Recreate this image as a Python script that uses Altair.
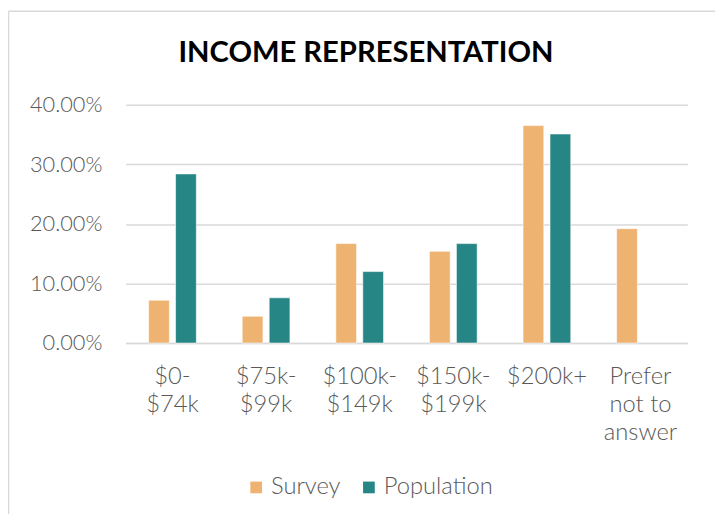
import altair as alt
import pandas as pd

categories = ["$0-|$74k", "$75k-|$99k", "$100k-|$149k", "$150k-|$199k", "$200k+", "Prefer|not to|answer"]
survey = [0.072, 0.045, 0.167, 0.154, 0.365, 0.192]
population = [0.284, 0.076, 0.120, 0.167, 0.351, None]
series = ["Survey", "Population"]
colors = ["#EEB370", "#268585"]

rows = []
for c, s, p in zip(categories, survey, population):
    rows.append({"cat": c, "series": "Survey", "value": s})
    if p is not None:
        rows.append({"cat": c, "series": "Population", "value": p})
df = pd.DataFrame(rows)

FONT = "Lato"
GREY = "#595959"

bars = alt.Chart(df).mark_bar(stroke="white", strokeWidth=0.6).encode(
    x=alt.X("cat:N", sort=categories,
            scale=alt.Scale(paddingInner=0.49, paddingOuter=0.245),
            axis=alt.Axis(title=None, labelAngle=0, labelExpr="split(datum.value, '|')",
                          labelFont=FONT, labelFontSize=24, labelFontWeight=300,
                          labelColor=GREY, labelPadding=22, labelLineHeight=28.5,
                          ticks=False, domain=True, domainColor="#D9D9D9", domainWidth=1.5,
                          labelBaseline="top")),
    xOffset=alt.XOffset("series:N", sort=series, scale=alt.Scale(paddingInner=0.23, paddingOuter=0)),
    y=alt.Y("value:Q", scale=alt.Scale(domain=[0, 0.4]),
            axis=alt.Axis(title=None, format=".2%", values=[0, 0.1, 0.2, 0.3, 0.4],
                          labelFont=FONT, labelFontSize=22, labelFontWeight=300,
                          labelColor=GREY, labelPadding=24, ticks=False, domain=False,
                          gridColor="#D9D9D9", gridWidth=1.5)),
    color=alt.Color("series:N", sort=series,
                    scale=alt.Scale(domain=series, range=colors),
                    legend=alt.Legend(title=None, orient="none", legendX=120, legendY=375,
                                      direction="horizontal", symbolType="square",
                                      symbolSize=140, symbolStrokeWidth=0,
                                      labelFont=FONT, labelFontSize=24, labelFontWeight=300,
                                      labelColor=GREY, columnPadding=16, labelOffset=3)),
)

border_df = pd.DataFrame({"k": [0]})
left_line = alt.Chart(border_df).mark_rule(color="#D9D9D9", strokeWidth=1.5).encode(
    x=alt.value(-118.5), y=alt.value(-94.5), y2=alt.value(420))
top_line = alt.Chart(border_df).mark_rule(color="#D9D9D9", strokeWidth=1.5).encode(
    x=alt.value(-118.5), x2=alt.value(600), y=alt.value(-94.5))

chart = alt.layer(bars, left_line, top_line).properties(
    width=568, height=241,
    autosize=alt.AutoSizeParams(type="none"),
    padding={"left": 119, "top": 95, "right": 28, "bottom": 170},
    title=alt.TitleParams("INCOME REPRESENTATION", font=FONT, fontSize=29.5, fontWeight="bold",
                          color="#000000", anchor="middle", dx=-41, offset=0, dy=81,
                          baseline="alphabetic"),
).configure_view(stroke=None)

chart.save("out.html", embed_options={"renderer": "svg", "actions": False})
